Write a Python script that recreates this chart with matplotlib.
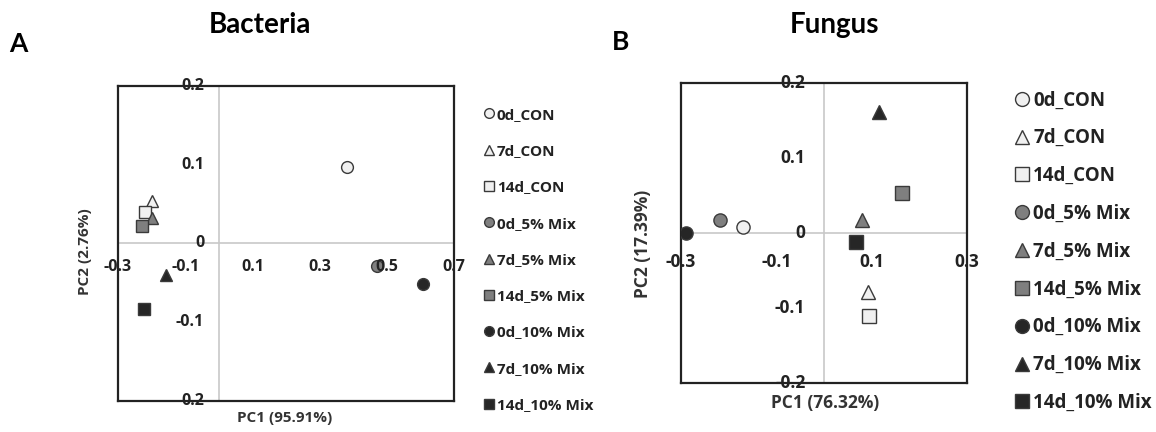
import matplotlib.pyplot as plt
from matplotlib.lines import Line2D

# -----------------------------
# Data
# -----------------------------
groups = ["0d_CON", "7d_CON", "14d_CON",
          "0d_5% Mix", "7d_5% Mix", "14d_5% Mix",
          "0d_10% Mix", "7d_10% Mix", "14d_10% Mix"]

bact_pc1 = [0.381, -0.198, -0.221, 0.470, -0.198, -0.229, 0.609, -0.156, -0.223]
bact_pc2 = [0.097, 0.054, 0.040, -0.028, 0.033, 0.022, -0.051, -0.040, -0.083]

fung_pc1 = [-0.169, 0.093, 0.094, -0.219, 0.080, 0.164, -0.289, 0.116, 0.068]
fung_pc2 = [0.008, -0.078, -0.110, 0.017, 0.017, 0.053, 0.000, 0.162, -0.012]

bact_xticks = [-0.3, -0.1, 0.1, 0.3, 0.5, 0.7]
bact_xlabels = ["-0.3", "-0.1", "0.1", "0.3", "0.5", "0.7"]
bact_yticks = [0.2, 0.1, 0.0, -0.1, -0.2]
bact_ylabels = ["0.2", "0.1", "0", "-0.1", "0.2"]

fung_xticks = [-0.3, -0.1, 0.1, 0.3]
fung_xlabels = ["-0.3", "-0.1", "0.1", "0.3"]
fung_yticks = [0.2, 0.1, 0.0, -0.1, -0.2]
fung_ylabels = ["0.2", "0.1", "0", "-0.1", "-0.2"]

# -----------------------------
# Styles
# -----------------------------
shapes = ["o", "^", "s"] * 3
faces = ["#f0f0f0"] * 3 + ["#7f7f7f"] * 3 + ["#262626"] * 3
EDGE = "#3a3a3a"
FONT = "Open Sans"
TITLE_FONT = "Lato"

W, H = 1156, 432
fig = plt.figure(figsize=(W / 100, H / 100), dpi=100)


def px_axes(left, top, right, bottom):
    return fig.add_axes([left / W, 1 - bottom / H, (right - left) / W, (bottom - top) / H])


def draw_panel(ax, xs, ys, xlim, xt, xl, yt, yl, ms, fs, yoff, xoff):
    ax.set_xlim(*xlim)
    ax.set_ylim(-0.2, 0.2)
    ax.axhline(0, color="#c8c8c8", lw=1.2, zorder=1)
    ax.axvline(0, color="#c8c8c8", lw=1.2, zorder=1)
    for x, y, m, c in zip(xs, ys, shapes, faces):
        ax.plot(x, y, marker=m, ms=ms, mfc=c, mec=EDGE, mew=1.0, ls="none", zorder=3)
    ax.set_xticks([])
    ax.set_yticks([])
    for s in ax.spines.values():
        s.set_linewidth(1.6)
        s.set_color("#222222")
    for v, t in zip(yt, yl):
        ax.annotate(t, xy=(0, v), xytext=(yoff, 0), textcoords="offset points",
                    ha="right", va="center", fontsize=fs, fontweight="bold",
                    family=FONT, color="#222222", annotation_clip=False, zorder=4)
    for v, t in zip(xt, xl):
        ax.annotate(t, xy=(v, 0), xytext=(0, xoff), textcoords="offset points",
                    ha="center", va="center", fontsize=fs, fontweight="bold",
                    family=FONT, color="#222222", annotation_clip=False, zorder=4)


# -----------------------------
# Panel A - Bacteria
# -----------------------------
axA = px_axes(118, 86, 454, 401)
draw_panel(axA, bact_pc1, bact_pc2, (-0.3, 0.7), bact_xticks, bact_xlabels,
           bact_yticks, bact_ylabels, ms=8.5, fs=11.5, yoff=-10.5, xoff=-17)
fig.text(285 / W, 1 - 418 / H, "PC1 (95.91%)", ha="center", va="center",
         fontsize=11, fontweight="bold", family=FONT, color="#333333")
fig.text(85 / W, 1 - 252 / H, "PC2 (2.76%)", ha="center", va="center", rotation=90,
         fontsize=11, fontweight="bold", family=FONT, color="#333333")
fig.text(260 / W, 1 - 25 / H, "Bacteria", ha="center", va="center",
         fontsize=20, fontweight="bold", family=TITLE_FONT)
fig.text(18 / W, 1 - 44 / H, "A", ha="center", va="center",
         fontsize=19, fontweight="bold", family=TITLE_FONT)

# -----------------------------
# Panel B - Fungus
# -----------------------------
axB = px_axes(681, 83, 967, 383)
draw_panel(axB, fung_pc1, fung_pc2, (-0.3, 0.3), fung_xticks, fung_xlabels,
           fung_yticks, fung_ylabels, ms=9.5, fs=12.5, yoff=-13.5, xoff=-21)
fig.text(825 / W, 1 - 403 / H, "PC1 (76.32%)", ha="center", va="center",
         fontsize=12.5, fontweight="bold", family=FONT, color="#333333")
fig.text(643 / W, 1 - 244 / H, "PC2 (17.39%)", ha="center", va="center", rotation=90,
         fontsize=12.5, fontweight="bold", family=FONT, color="#333333")
fig.text(835 / W, 1 - 25 / H, "Fungus", ha="center", va="center",
         fontsize=20, fontweight="bold", family=TITLE_FONT)
fig.text(621 / W, 1 - 42 / H, "B", ha="center", va="center",
         fontsize=19, fontweight="bold", family=TITLE_FONT)

# -----------------------------
# Legends
# -----------------------------
def handles(ms):
    return [Line2D([], [], marker=m, ms=ms, mfc=c, mec=EDGE, mew=1.0, ls="none")
            for m, c in zip(shapes, faces)]


legA = fig.legend(handles(7), groups, loc="upper left",
                  bbox_to_anchor=(476 / W, 1 - 100 / H), frameon=False,
                  borderpad=0, handlelength=0.7, handletextpad=0.15,
                  labelspacing=1.46, prop={"family": FONT, "weight": "bold", "size": 11})
legB = fig.legend(handles(10), groups, loc="upper left",
                  bbox_to_anchor=(1005 / W, 1 - 81 / H), frameon=False,
                  borderpad=0, handlelength=0.8, handletextpad=0.2,
                  labelspacing=0.95, prop={"family": FONT, "weight": "bold", "size": 13.5})
for leg in (legA, legB):
    for t in leg.get_texts():
        t.set_color("#222222")

fig.savefig("out.png", dpi=100)
